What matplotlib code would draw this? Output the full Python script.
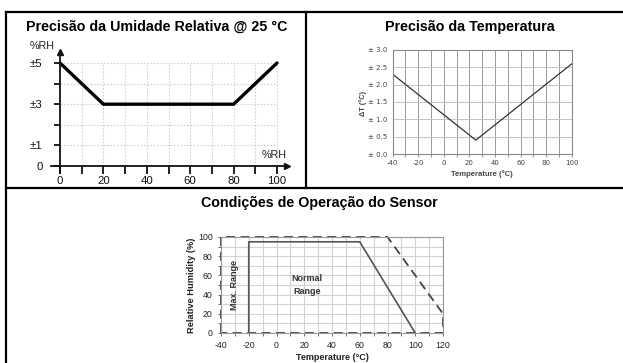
import matplotlib
matplotlib.use("Agg")
import matplotlib.pyplot as plt
from matplotlib import font_manager as fm
from matplotlib.lines import Line2D

# ---- dados ----
# Precisão da umidade relativa @ 25 °C
rh_x = [0, 20, 80, 100]
rh_err = [5, 3, 3, 5]
rh_yticks = [0, 1, 2, 3, 4, 5]
rh_ylabels = ["0", "±1", "", "±3", "", "±5"]
rh_xticks = [0, 10, 20, 30, 40, 50, 60, 70, 80, 90, 100]
rh_xlabels = ["0", "", "20", "", "40", "", "60", "", "80", "", "100"]

# Precisão da temperatura
t_x = [-40, 25, 100]
t_err = [2.3, 0.4, 2.6]
t_yticks = [0.0, 0.5, 1.0, 1.5, 2.0, 2.5, 3.0]
t_xticks = [-40, -20, 0, 20, 40, 60, 80, 100]

# Condições de operação
max_t = [-40, -40, 80, 120, 120, -40]
max_rh = [0, 100, 100, 20, 0, 0]
norm_t = [-20, -20, 60, 100]
norm_rh = [0, 95, 95, 0]
op_xticks = [-40, -20, 0, 20, 40, 60, 80, 100, 120]
op_yticks = [0, 20, 40, 60, 80, 100]

W, H = 623, 363
plt.rcParams["axes.unicode_minus"] = False
names = {f.name for f in fm.fontManager.ttflist}
if "Liberation Sans Narrow" in names:
    NARROW, k = "Liberation Sans Narrow", 1.0
else:
    NARROW, k = "Liberation Sans", 0.82
REG = "Liberation Sans"

fig = plt.figure(figsize=(W / 100, H / 100), dpi=100)


def fx(x):
    return x / W


def fy(y):
    return 1 - y / H


def axes_at(xd, xp, yd, yp, xlim, ylim):
    """cria um eixo cujo dado xd/yd cai nos pixels xp/yp"""
    sx = (xp[1] - xp[0]) / (xd[1] - xd[0])
    sy = (yp[1] - yp[0]) / (yd[1] - yd[0])
    left = xp[0] + (xlim[0] - xd[0]) * sx
    right = xp[0] + (xlim[1] - xd[0]) * sx
    bottom = yp[0] + (ylim[0] - yd[0]) * sy
    top = yp[0] + (ylim[1] - yd[0]) * sy
    ax = fig.add_axes([fx(left), fy(bottom), (right - left) / W, (bottom - top) / H])
    ax.set_xlim(xlim)
    ax.set_ylim(ylim)
    ax.patch.set_alpha(0)
    return ax


# moldura da tabela
for (x0, y0, x1, y1) in [(6, 12, 623, 12), (6, 12, 6, 363), (306, 12, 306, 188), (6, 188, 623, 188)]:
    fig.add_artist(Line2D([fx(x0), fx(x1)], [fy(y0), fy(y1)], color="black", lw=1.6,
                          transform=fig.transFigure, solid_capstyle="projecting"))

# títulos
fig.text(fx(157), fy(27), "Precisão da Umidade Relativa @ 25 °C", ha="center", va="center",
         fontsize=12.5 * k, fontweight="bold", family=NARROW)
fig.text(fx(470), fy(27), "Precisão da Temperatura", ha="center", va="center",
         fontsize=12.5 * k, fontweight="bold", family=NARROW)
fig.text(fx(319), fy(203), "Condições de Operação do Sensor", ha="center", va="center",
         fontsize=12.5 * k, fontweight="bold", family=NARROW)

# ---- gráfico 1: umidade ----
ax1 = axes_at((0, 100), (60, 277), (0, 5), (166, 63), (-8, 107), (-0.7, 5.9))
for s in ["top", "right"]:
    ax1.spines[s].set_visible(False)
ax1.spines["left"].set_position(("data", 0))
ax1.spines["bottom"].set_position(("data", 0))
ax1.spines["left"].set_bounds(-0.35, 5.5)
ax1.spines["bottom"].set_bounds(-4, 104)
for s in ["left", "bottom"]:
    ax1.spines[s].set_linewidth(1.3)
    ax1.spines[s].set_color("#111111")
ax1.plot(0, 5.55, marker="^", color="#111111", ms=5, clip_on=False)
ax1.plot(104.5, 0, marker=">", color="#111111", ms=5, clip_on=False)
ax1.vlines(rh_xticks[1:], 0, 5, colors="#d0d0d0", lw=0.8, linestyles=(0, (1.5, 1.5)), zorder=0)
ax1.hlines(rh_yticks[1:], 0, 100, colors="#d0d0d0", lw=0.8, linestyles=(0, (1.5, 1.5)), zorder=0)
ax1.plot(rh_x, rh_err, color="black", lw=2.4, solid_capstyle="round")
ax1.set_yticks(rh_yticks)
ax1.set_yticklabels(rh_ylabels)
ax1.set_xticks(rh_xticks)
ax1.set_xticklabels(rh_xlabels)
ax1.tick_params(axis="y", direction="out", length=4.5, width=1.3, pad=8, labelsize=10 * k, colors="#111111")
ax1.tick_params(axis="x", direction="out", length=5.5, width=1.3, pad=1.5, labelsize=10 * k, colors="#111111")
for lab in ax1.get_xticklabels() + ax1.get_yticklabels():
    lab.set_family(NARROW)
fig.text(fx(42), fy(46), "%RH", ha="center", va="center", fontsize=9.5 * k, family=NARROW, color="#222222")
fig.text(fx(274), fy(155), "%RH", ha="center", va="center", fontsize=9.5 * k, family=NARROW, color="#222222")

# ---- gráfico 2: temperatura ----
ax2 = axes_at((-40, 100), (392.7, 571.7), (0, 3), (154, 50), (-40, 100), (0, 3))
for s in ax2.spines.values():
    s.set_color("#8a8a8a")
    s.set_linewidth(0.8)
ax2.set_xticks(t_xticks)
ax2.set_xticks(range(-30, 100, 20), minor=True)
ax2.set_yticks(t_yticks)
ax2.set_yticklabels([f"± {v:.1f}" for v in t_yticks])
ax2.grid(True, which="both", axis="x", color="#9a9a9a", lw=0.7)
ax2.grid(True, which="major", axis="y", color="#c4c4c4", lw=0.7)
ax2.set_axisbelow(True)
ax2.tick_params(which="both", length=2, width=0.6, color="#777777", labelsize=5, labelcolor="#444444", pad=2.5)
ax2.tick_params(axis="y", length=0, pad=4)
ax2.plot(t_x, t_err, color="#333333", lw=0.9)
fig.text(fx(363), fy(103), "ΔT (°C)", rotation=90, ha="center", va="center",
         fontsize=5.3, fontweight="bold", color="#444444", family=REG)
fig.text(fx(482), fy(174), "Temperature (°C)", ha="center", va="center",
         fontsize=5.5, fontweight="bold", color="#444444", family=REG)

# ---- gráfico 3: condições de operação ----
ax3 = axes_at((-40, 120), (221, 443), (0, 100), (333, 237), (-40, 120), (0, 100))
for s in ax3.spines.values():
    s.set_color("#999999")
    s.set_linewidth(0.8)
ax3.set_xticks(op_xticks)
ax3.set_xticks(range(-30, 120, 20), minor=True)
ax3.set_yticks(op_yticks)
ax3.set_yticks(range(10, 100, 20), minor=True)
ax3.grid(True, which="both", color="#d2d2d2", lw=0.8)
ax3.set_axisbelow(True)
ax3.tick_params(which="both", length=2, width=0.6, color="#555555", labelsize=7.3 * k + 0.3,
                labelcolor="#222222", pad=4)
for lab in ax3.get_xticklabels() + ax3.get_yticklabels():
    lab.set_family(NARROW)
ax3.plot(max_t, max_rh, color="#444444", lw=1.3, dashes=(5, 3), clip_on=False)
ax3.plot(norm_t, norm_rh, color="#555555", lw=1.2, clip_on=False)
ax3.text(-30, 50, "Max. Range", rotation=90, ha="center", va="center",
         fontsize=7.5 * k + 0.3, fontweight="bold", family=NARROW, color="#333333")
ax3.text(22, 50, "Normal\nRange", ha="center", va="center", linespacing=1.6,
         fontsize=7.5 * k + 0.3, fontweight="bold", family=NARROW, color="#333333")
fig.text(fx(192), fy(285), "Relative Humidity (%)", rotation=90, ha="center", va="center",
         fontsize=7.5 * k + 0.5, fontweight="bold", family=NARROW, color="#222222")
fig.text(fx(332), fy(362.5), "Temperature (°C)", ha="center", va="bottom",
         fontsize=7.3 * k + 0.5, fontweight="bold", family=NARROW, color="#222222")

fig.savefig("out.png", dpi=100)
